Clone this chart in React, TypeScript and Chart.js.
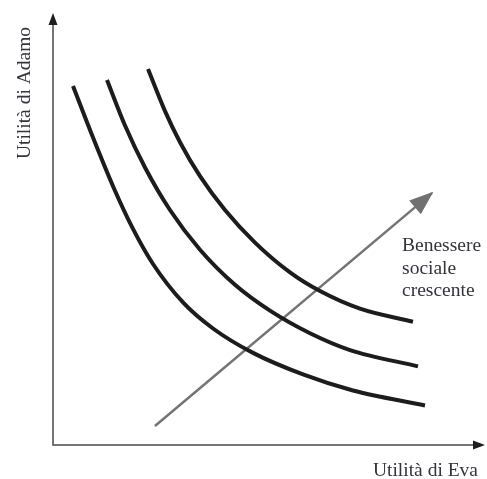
import React, { useEffect, useRef } from "react";
import { Chart, registerables } from "chart.js";

Chart.register(...registerables);

// Indifference curves (x = Utilità di Eva, y = Utilità di Adamo), 0..100 units
const curveLowX = [4.63, 9.26, 13.89, 18.52, 23.15, 30.09, 37.04, 46.3, 57.87, 69.44, 86.11];
const curveLowY = [83.1, 71.16, 59.91, 50.02, 41.9, 33.01, 26.97, 21.32, 16.34, 12.62, 9.14];

const curveMidX = [12.5, 16.67, 21.3, 27.08, 34.03, 42.13, 50.23, 59.49, 68.75, 84.49];
const curveMidY = [84.49, 73.96, 64.24, 54.4, 45.2, 37.09, 31.1, 25.87, 21.98, 18.19];

const curveHighX = [21.99, 25.93, 29.4, 34.03, 39.81, 46.76, 54.86, 61.81, 71.06, 83.33];
const curveHighY = [87.04, 77.29, 70.09, 62.22, 54.4, 46.85, 39.95, 35.63, 31.55, 28.54];

// Arrow of increasing social welfare
const arrowX = [23.6, 87.7];
const arrowY = [4.4, 58.3];

const xAxisTitle = "Utilità di Eva";
const yAxisTitle = "Utilità di Adamo";
const annotationLines = ["Benessere", "sociale", "crescente"];
const annotationAnchor = { x: 80.8, y: 44.9 };

const FONT = '19.5px "Liberation Serif", "DejaVu Serif", serif';
const TEXT_COLOR = "#33333d";

function toPoints(xs: number[], ys: number[]) {
  return xs.map((x, i) => ({ x, y: ys[i] }));
}

function arrowHead(
  ctx: CanvasRenderingContext2D,
  fromX: number,
  fromY: number,
  tipX: number,
  tipY: number,
  length: number,
  width: number,
  color: string
) {
  const ang = Math.atan2(tipY - fromY, tipX - fromX);
  const bx = tipX - Math.cos(ang) * length;
  const by = tipY - Math.sin(ang) * length;
  const nx = -Math.sin(ang) * (width / 2);
  const ny = Math.cos(ang) * (width / 2);
  ctx.beginPath();
  ctx.moveTo(tipX, tipY);
  ctx.lineTo(bx + nx, by + ny);
  ctx.lineTo(bx - nx, by - ny);
  ctx.closePath();
  ctx.fillStyle = color;
  ctx.fill();
}

const decorPlugin = {
  id: "decor",
  beforeDatasetsDraw(chart: any) {
    const { ctx } = chart;
    const xs = chart.scales.x;
    const ys = chart.scales.y;
    const x0 = xs.getPixelForValue(0);
    const y0 = ys.getPixelForValue(0);
    const xEnd = xs.getPixelForValue(100);
    const yEnd = ys.getPixelForValue(100);
    ctx.save();
    ctx.strokeStyle = "#4a4a4a";
    ctx.lineWidth = 1.5;
    ctx.beginPath();
    ctx.moveTo(x0, yEnd + 6);
    ctx.lineTo(x0, y0);
    ctx.lineTo(xEnd - 6, y0);
    ctx.stroke();
    arrowHead(ctx, x0, y0, x0, yEnd, 12, 9, "#1e1e1e");
    arrowHead(ctx, x0, y0, xEnd, y0, 12, 9, "#1e1e1e");
    ctx.restore();
  },
  afterDatasetsDraw(chart: any) {
    const { ctx } = chart;
    const xs = chart.scales.x;
    const ys = chart.scales.y;
    ctx.save();
    // welfare arrow head
    const meta = chart.getDatasetMeta(3);
    const p0 = meta.data[0];
    const p1 = meta.data[1];
    const ang = Math.atan2(p1.y - p0.y, p1.x - p0.x);
    arrowHead(
      ctx,
      p0.x,
      p0.y,
      p1.x + Math.cos(ang) * 2,
      p1.y + Math.sin(ang) * 2,
      24,
      18,
      "#707070"
    );

    ctx.font = FONT;
    ctx.fillStyle = TEXT_COLOR;
    ctx.textBaseline = "alphabetic";

    // x axis title
    ctx.textAlign = "right";
    ctx.fillText(xAxisTitle, xs.getPixelForValue(100) - 7, ys.getPixelForValue(0) + 31);

    // annotation
    ctx.textAlign = "left";
    const ax = xs.getPixelForValue(annotationAnchor.x);
    const ay = ys.getPixelForValue(annotationAnchor.y);
    annotationLines.forEach((t, i) => ctx.fillText(t, ax, ay + i * 22.5));

    // y axis title (rotated)
    ctx.translate(xs.getPixelForValue(0) - 23, (ys.getPixelForValue(100) + ys.getPixelForValue(0)) / 2 - 136);
    ctx.rotate(-Math.PI / 2);
    ctx.textAlign = "center";
    ctx.fillText(yAxisTitle, 0, 0);
    ctx.restore();
  },
};

export default function App() {
  const canvasRef = useRef<HTMLCanvasElement | null>(null);

  useEffect(() => {
    if (!canvasRef.current) return;
    const curveStyle = {
      showLine: true,
      borderColor: "#1c1c1c",
      borderWidth: 4,
      pointRadius: 0,
      cubicInterpolationMode: "monotone" as const,
      fill: false,
    };
    const chart = new Chart(canvasRef.current, {
      type: "scatter",
      data: {
        datasets: [
          { ...curveStyle, data: toPoints(curveLowX, curveLowY) },
          { ...curveStyle, data: toPoints(curveMidX, curveMidY) },
          { ...curveStyle, data: toPoints(curveHighX, curveHighY) },
          {
            showLine: true,
            borderColor: "#747474",
            borderWidth: 2.5,
            pointRadius: 0,
            data: toPoints(arrowX, arrowY),
          },
        ],
      },
      options: {
        responsive: false,
        animation: false,
        layout: { padding: { left: 53, right: 2, top: 13, bottom: 34 } },
        plugins: { legend: { display: false }, tooltip: { enabled: false } },
        events: [],
        scales: {
          x: { type: "linear", min: 0, max: 100, display: false },
          y: { type: "linear", min: 0, max: 100, display: false },
        },
      },
      plugins: [decorPlugin],
    });
    return () => chart.destroy();
  }, []);

  return (
    <div style={{ position: "absolute", left: 0, top: 0, width: 487, height: 479, background: "#fff" }}>
      <canvas ref={canvasRef} width={487} height={479} />
    </div>
  );
}
